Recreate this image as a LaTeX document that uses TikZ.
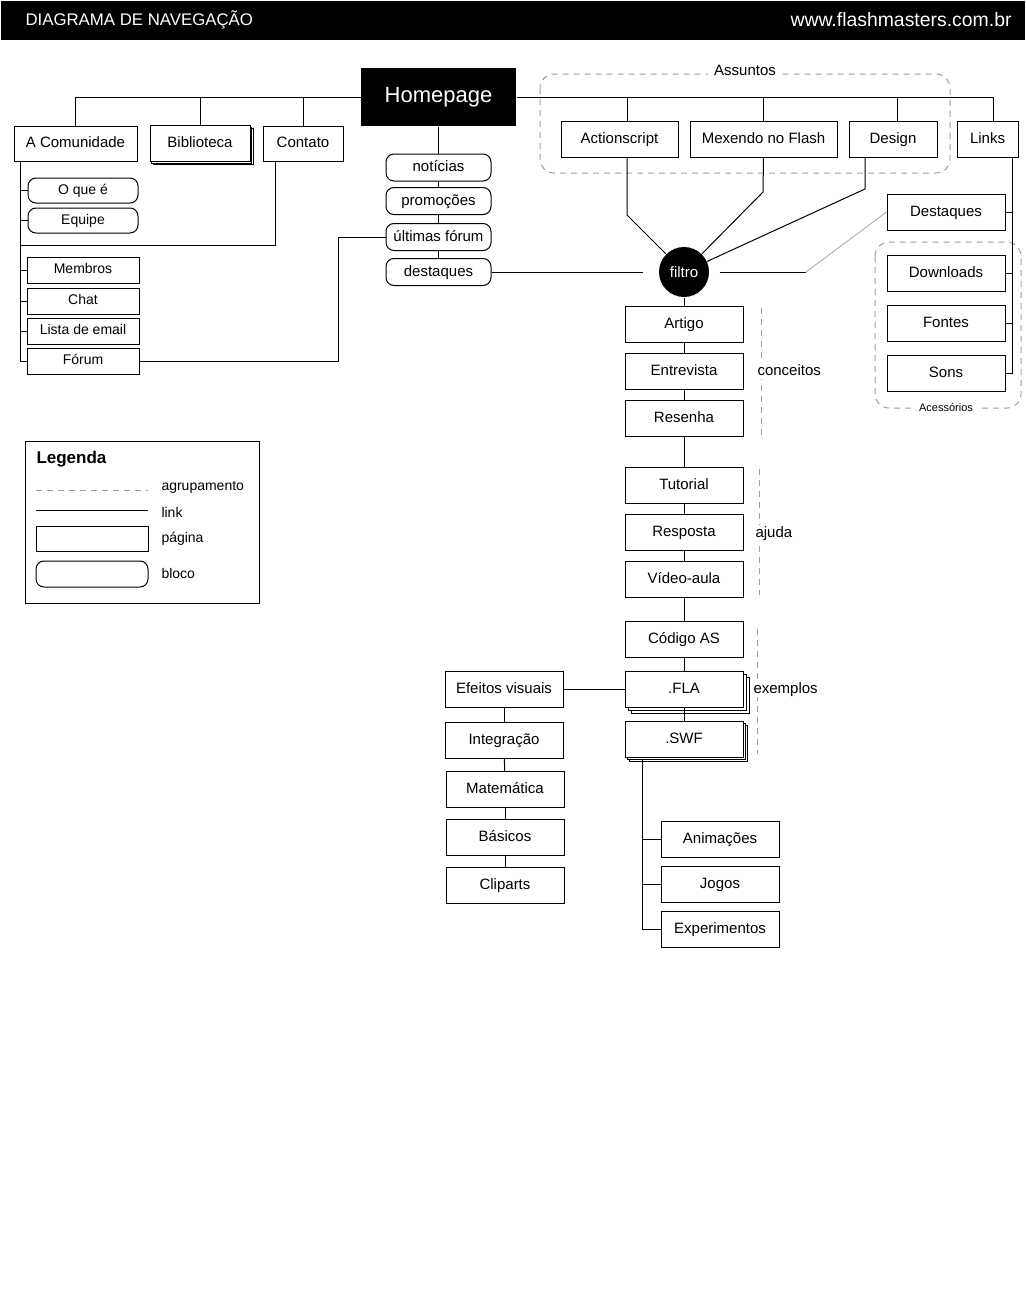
\documentclass[tikz,border=0pt]{standalone}
\usepackage{fontspec}
\setmainfont{Liberation Sans}
\usetikzlibrary{shadows}

\tikzset{
  pagina/.style={draw, fill=white, inner sep=0pt, minimum width=59pt, minimum height=18pt,
    text height=5.4pt, text depth=1.4pt, font=\fontsize{7.5}{9}\selectfont},
  item/.style={pagina, minimum width=56pt, minimum height=13pt, text height=5pt, text depth=1.3pt,
    font=\fontsize{7}{8}\selectfont},
  bloco/.style={draw, fill=white, rounded corners=4pt, inner sep=0pt, minimum width=52.5pt,
    minimum height=13.5pt, text height=5.4pt, text depth=1.4pt, font=\fontsize{7.5}{9}\selectfont},
  pilha/.style n args={2}{
    copy shadow={shadow xshift=#2, shadow yshift=-#2, draw=black, fill=white},
    copy shadow={shadow xshift=#1, shadow yshift=-#1, draw=black, fill=white}},
  grupo/.style={draw=gray!75, dash pattern=on 3pt off 2.5pt},
  rotulo/.style={inner sep=0.5pt, fill=white, text height=5.4pt, text depth=1.4pt,
    font=\fontsize{7.5}{9}\selectfont},
  texto/.style={inner sep=0pt, font=\fontsize{7}{8}\selectfont},
}

\begin{document}
\begin{tikzpicture}[x=0.5pt, y=-0.5pt, line width=0.5pt]
  \useasboundingbox (0,0) rectangle (1026,1290);

  \fill (1,1) rectangle (1025,40);
  \node[texto, anchor=west, text=white, font=\fontsize{8.4}{10}\selectfont] (titulo) at (25,20) {DIAGRAMA DE NAVEGAÇÃO};
  \node[texto, anchor=east, text=white, font=\fontsize{9.7}{11}\selectfont] (site) at (1012,20) {www.flashmasters.com.br};

  \node[fill=black, text=white, inner sep=0pt, minimum width=77.5pt, minimum height=29pt,
    font=\fontsize{11}{12}\selectfont] (home) at (438.5,97) {Homepage};

  \node[pagina, minimum width=61.5pt, minimum height=17.5pt] (comunidade) at (75.5,143.5) {A Comunidade};
  \node[pagina, minimum width=50pt, pilha={0.75pt}{1.5pt}] (biblioteca) at (200,143.5) {Biblioteca};
  \node[pagina, minimum width=40pt, minimum height=17.5pt] (contato) at (303,143.5) {Contato};

  \node[bloco, minimum width=55pt, minimum height=12.5pt, text height=5pt, text depth=1.3pt,
    font=\fontsize{7}{8}\selectfont] (oque) at (83,190.5) {O que é};
  \node[bloco, minimum width=55pt, minimum height=12.5pt, text height=5pt, text depth=1.3pt,
    font=\fontsize{7}{8}\selectfont] (equipe) at (83,220.5) {Equipe};
  \node[item] (membros) at (83,270) {Membros};
  \node[item] (chat) at (83,301) {Chat};
  \node[item] (lista) at (83,331) {Lista de email};
  \node[item] (forum) at (83,361) {Fórum};

  \node[bloco] (noticias) at (438.5,167.5) {notícias};
  \node[bloco] (promocoes) at (438.5,201) {promoções};
  \node[bloco] (ultimas) at (438.5,237) {últimas fórum};
  \node[bloco] (destaques) at (438.5,272) {destaques};

  \node[circle, fill=black, text=white, inner sep=0pt, minimum size=25pt,
    font=\fontsize{7.5}{9}\selectfont] (filtro) at (684,272) {filtro};

  \node[pagina, minimum width=58.5pt] (action) at (619.5,139) {Actionscript};
  \node[pagina, minimum width=73.5pt] (mexendo) at (763.5,139) {Mexendo no Flash};
  \node[pagina, minimum width=44pt] (design) at (893,139) {Design};
  \node[pagina, minimum width=30.5pt] (links) at (987.5,139) {Links};
  \draw[grupo, rounded corners=7pt] (540,74) rectangle (950,173);
  \node[rotulo, inner sep=3pt] (assuntos) at (745,71) {Assuntos};

  \node[pagina] (destaq) at (946,212) {Destaques};
  \node[pagina] (downloads) at (946,273) {Downloads};
  \node[pagina] (fontes) at (946,323) {Fontes};
  \node[pagina] (sons) at (946,373) {Sons};
  \draw[grupo, rounded corners=7pt] (875,242) rectangle (1021,408);
  \node[rotulo, inner sep=2pt, text height=4pt, text depth=1pt, font=\fontsize{5.5}{6}\selectfont] (acessorios) at (946,408) {Acessórios};

  \node[pagina] (artigo) at (684,324.5) {Artigo};
  \node[pagina] (entrevista) at (684,371) {Entrevista};
  \node[pagina] (resenha) at (684,418) {Resenha};
  \node[pagina] (tutorial) at (684,485) {Tutorial};
  \node[pagina] (resposta) at (684,532) {Resposta};
  \node[pagina] (video) at (684,579) {Vídeo-aula};
  \node[pagina] (codigo) at (684,639.5) {Código AS};
  \node[pagina, pilha={1.5pt}{3pt}] (fla) at (684,689.5) {.FLA};
  \node[pagina, pilha={1pt}{2pt}] (swf) at (684,739) {.SWF};

  \draw[grupo] (761,308) -- (761,436);
  \node[rotulo, anchor=west] (conceitos) at (756,371) {conceitos};
  \draw[grupo] (759,469) -- (759,595);
  \node[rotulo, anchor=west] (ajuda) at (754,533) {ajuda};
  \draw[grupo] (757,629) -- (757,754);
  \node[rotulo, anchor=west] (exemplos) at (752,689) {exemplos};

  \node[pagina] (efeitos) at (504,689.5) {Efeitos visuais};
  \node[pagina] (integracao) at (504,740) {Integração};
  \node[pagina] (matematica) at (505,789.5) {Matemática};
  \node[pagina] (basicos) at (505,837) {Básicos};
  \node[pagina] (cliparts) at (505,885) {Cliparts};

  \node[pagina] (animacoes) at (720,839) {Animações};
  \node[pagina] (jogos) at (720,884) {Jogos};
  \node[pagina] (experimentos) at (720,929.5) {Experimentos};

  \coordinate (cv) at (20,161);
  \coordinate (ct) at (275,245);
  \coordinate (fj) at (338,300);
  \coordinate (ab) at (627,215);
  \coordinate (mb) at (763,192);
  \coordinate (db) at (865,189);
  \coordinate (fr) at (806,272);
  \coordinate (lv) at (1012,157);
  \coordinate (sv) at (642,759);

  \draw (comunidade.north) |- (home.west);
  \draw (biblioteca.north) -- (biblioteca.north |- home.west);
  \draw (contato.north) -- (contato.north |- home.west);
  \draw (home.east) -| ([xshift=3pt]links.north);
  \draw (action.north -| ab) -- (ab |- home.east);
  \draw (mexendo.north) -- (mexendo.north |- home.east);
  \draw ([xshift=2pt]design.north) -- ([xshift=2pt]design.north |- home.east);

  \draw (cv) |- (forum.west);
  \foreach \n in {oque,equipe,membros,chat,lista}
    \draw (\n.west) -- (\n.west -| cv);
  \draw (contato.south -| ct) |- (cv |- ct);
  \draw (forum.east) -| (fj |- ultimas.west) -- (ultimas.west);

  \draw (home.south) -- (noticias.north);
  \foreach \a/\b in {noticias/promocoes, promocoes/ultimas, ultimas/destaques}
    \draw (\a) -- (\b);
  \draw[shorten >=8pt] (destaques) -- (filtro);
  \draw[shorten <=5pt] (filtro) -- (fr);
  \draw[gray!70, line width=0.4pt] (fr) -- (destaq.west);

  \draw (action.south -| ab) -- (ab) -- (filtro);
  \draw (mexendo.south) -- (mb) -- (filtro);
  \draw (design.south -| db) -- (db) -- (filtro);

  \draw (links.south -| lv) |- (sons.east);
  \foreach \n in {destaq,downloads,fontes}
    \draw (\n.east) -- (\n.east -| lv);

  \foreach \a/\b in {filtro/artigo, artigo/entrevista, entrevista/resenha, resenha/tutorial,
    tutorial/resposta, resposta/video, video/codigo, codigo/fla, fla/swf}
    \draw (\a) -- (\b);
  \draw (efeitos) -- (fla);
  \foreach \a/\b in {efeitos/integracao, integracao/matematica, matematica/basicos, basicos/cliparts}
    \draw (\a) -- (\b);
  \draw (sv) |- (experimentos.west);
  \foreach \n in {animacoes,jogos}
    \draw (\n.west) -- (\n.west -| sv);

  \draw (25,441) rectangle (259,603);
  \node[texto, anchor=west, font=\bfseries\fontsize{8.5}{10}\selectfont] (legenda) at (36,459) {Legenda};
  \draw[grupo] (36,490) -- (148,490);
  \node[texto, anchor=west] (lagrup) at (161,487) {agrupamento};
  \draw (36,510) -- (148,510);
  \node[texto, anchor=west] (llink) at (161,512) {link};
  \node[pagina, minimum width=56pt, minimum height=12.5pt] (lpagina) at (92,538.5) {};
  \node[texto, anchor=west] (lpag) at (161,539) {página};
  \node[bloco, minimum width=56pt, minimum height=13pt] (lbloco) at (92,574) {};
  \node[texto, anchor=west] (lblo) at (161,573) {bloco};
\end{tikzpicture}
\end{document}
